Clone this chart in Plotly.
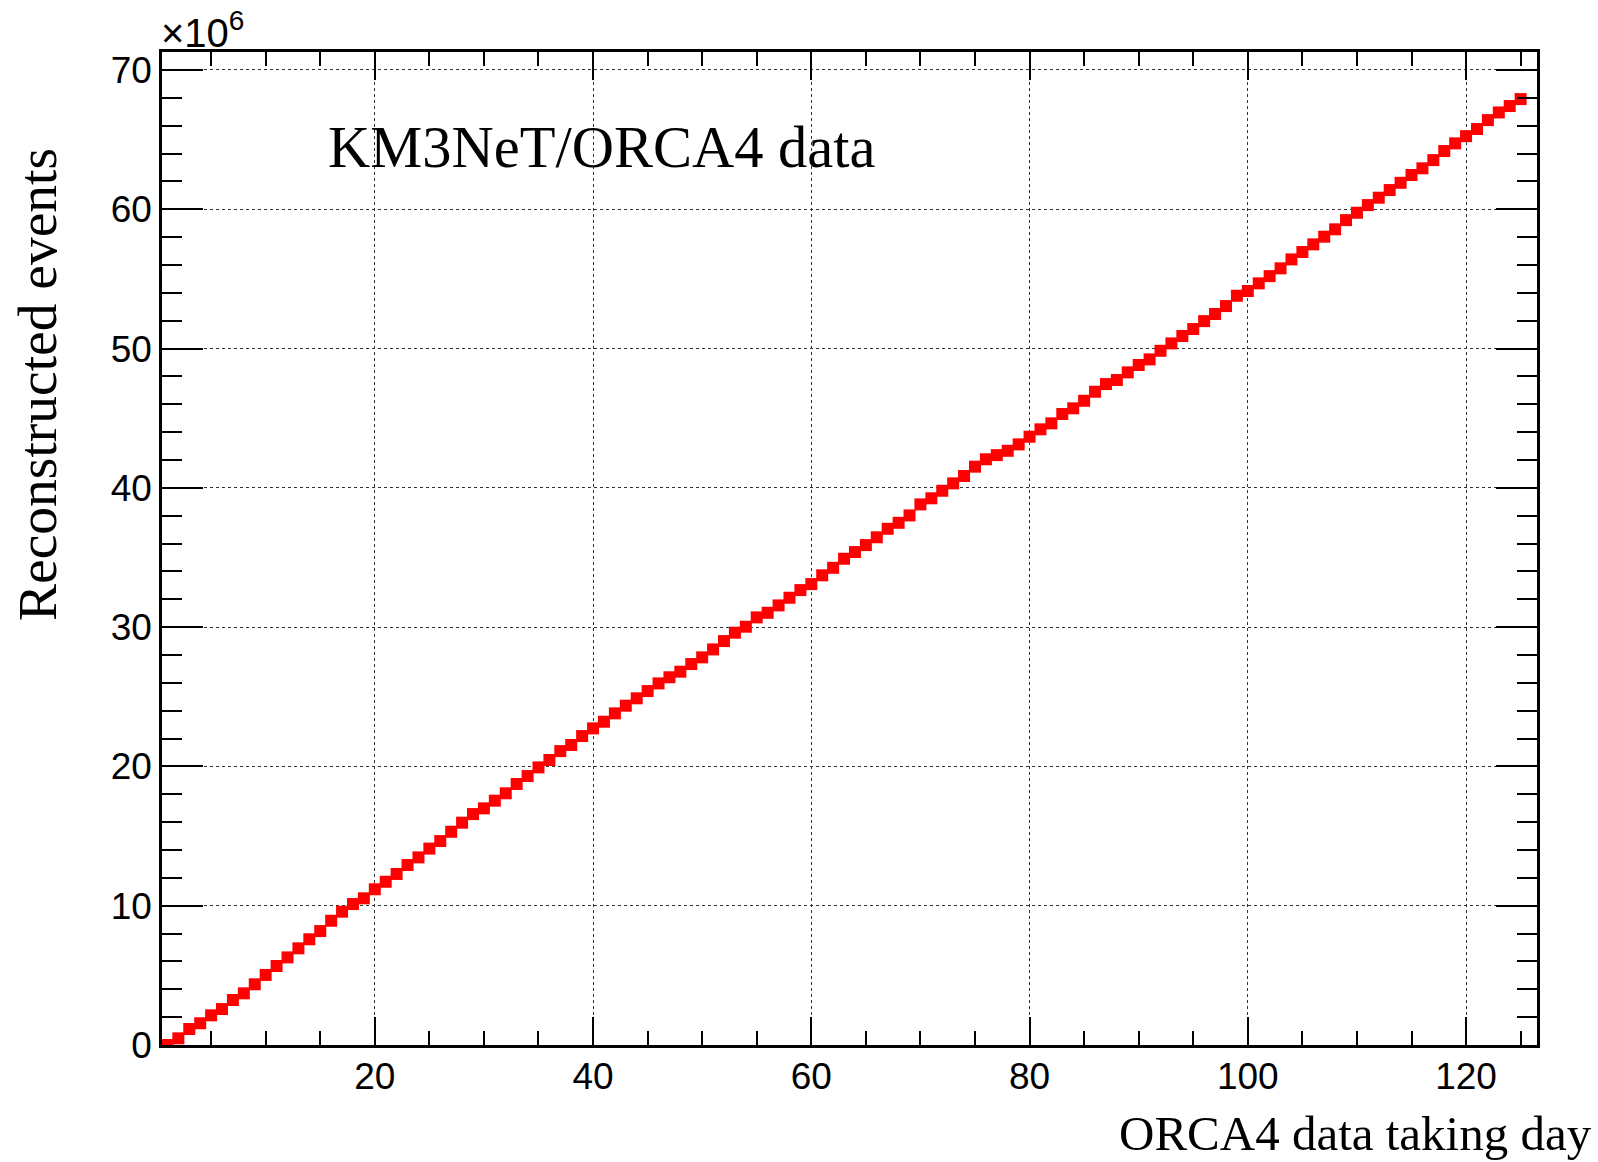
import plotly.graph_objects as go

# Data taking day (bin centres) and cumulative reconstructed events (in units of 10^6)
days = list(range(1, 126))
events_1e6 = [
    0.00, 0.48, 1.15, 1.56, 2.13, 2.58, 3.23, 3.71, 4.36, 5.03,
    5.67, 6.29, 6.94, 7.59, 8.18, 8.92, 9.57, 10.12, 10.53, 11.18,
    11.72, 12.28, 12.92, 13.47, 14.10, 14.64, 15.31, 15.96, 16.58, 16.99,
    17.54, 18.07, 18.74, 19.31, 19.93, 20.46, 21.10, 21.54, 22.18, 22.73,
    23.21, 23.81, 24.36, 24.89, 25.41, 25.96, 26.40, 26.80, 27.35, 27.83,
    28.40, 29.00, 29.60, 30.03, 30.70, 31.03, 31.56, 32.11, 32.66, 33.09,
    33.72, 34.26, 34.91, 35.39, 35.89, 36.45, 37.06, 37.49, 38.02, 38.81,
    39.25, 39.79, 40.32, 40.85, 41.52, 42.05, 42.35, 42.66, 43.12, 43.67,
    44.20, 44.63, 45.30, 45.71, 46.25, 46.90, 47.45, 47.74, 48.29, 48.82,
    49.22, 49.84, 50.37, 50.90, 51.40, 51.97, 52.48, 53.05, 53.79, 54.13,
    54.68, 55.20, 55.76, 56.40, 56.93, 57.48, 58.03, 58.56, 59.22, 59.75,
    60.30, 60.83, 61.38, 61.90, 62.46, 62.94, 63.53, 64.18, 64.73, 65.25,
    65.76, 66.40, 66.95, 67.41, 67.91,
]

x_title = "ORCA4 data taking day"
y_title = "Reconstructed events"
label_text = "KM3NeT/ORCA4 data"
exponent_text = "×10<sup>6</sup>"

W, H = 1598, 1162
L, R, T, B = 162, 61, 52, 117
pw, ph = W - L - R, H - T - B

def px2paper_x(px):
    return (px - L) / pw

def px2paper_y(py):
    return (H - B - py) / ph

fig = go.Figure()
fig.add_trace(go.Scatter(
    x=days, y=events_1e6, mode="markers",
    marker=dict(symbol="square", size=12, color="#ff0000", line=dict(width=0)),
    showlegend=False, hoverinfo="x+y",
))

tick_font = dict(family="Liberation Sans, Arial, sans-serif", size=37, color="black")
serif = "Liberation Serif, Times New Roman, serif"

fig.update_xaxes(
    range=[0.5, 126.5], tick0=0, dtick=20,
    ticks="inside", ticklen=28, tickwidth=1.5, tickcolor="black",
    minor=dict(ticks="inside", ticklen=14, tickwidth=1.5, tickcolor="black", dtick=5, tick0=0, showgrid=False),
    showline=True, linecolor="black", linewidth=2.5, mirror="allticks",
    showgrid=True, gridcolor="#333333", gridwidth=1, griddash="dot",
    zeroline=False, tickfont=tick_font, ticklabelstandoff=-3,
)
fig.update_yaxes(
    range=[0, 71.29], tick0=0, dtick=10,
    ticks="inside", ticklen=41, tickwidth=1.5, tickcolor="black",
    minor=dict(ticks="inside", ticklen=20, tickwidth=1.5, tickcolor="black", dtick=2, tick0=0, showgrid=False),
    showline=True, linecolor="black", linewidth=2.5, mirror="allticks",
    showgrid=True, gridcolor="#333333", gridwidth=1, griddash="dot",
    zeroline=False, tickfont=tick_font,
)

annotations = [
    dict(text=label_text, xref="paper", yref="paper",
         x=px2paper_x(326), y=px2paper_y(148), xanchor="left", yanchor="middle",
         showarrow=False, font=dict(family=serif, size=58.5, color="black")),
    dict(text=exponent_text, xref="paper", yref="paper",
         x=px2paper_x(159), y=px2paper_y(57), xanchor="left", yanchor="bottom",
         showarrow=False, font=dict(family="Liberation Sans, Arial, sans-serif", size=40, color="black")),
    dict(text=x_title, xref="paper", yref="paper",
         x=px2paper_x(1594), y=px2paper_y(1134), xanchor="right", yanchor="middle",
         showarrow=False, font=dict(family=serif, size=49, color="black")),
    dict(text=y_title, xref="paper", yref="paper", textangle=-90,
         x=px2paper_x(37), y=px2paper_y(385), xanchor="center", yanchor="middle",
         showarrow=False, font=dict(family=serif, size=55.5, color="black")),
]

fig.update_layout(
    width=W, height=H,
    margin=dict(l=L, r=R, t=T, b=B, pad=0),
    paper_bgcolor="white", plot_bgcolor="white",
    annotations=annotations,
    showlegend=False,
)

fig.write_html("out.html")
